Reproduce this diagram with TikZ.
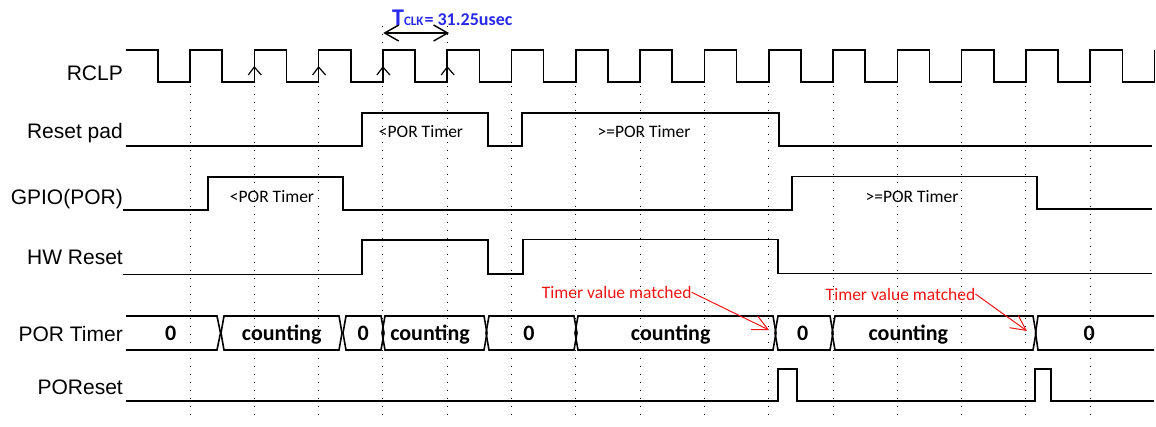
\documentclass[tikz,border=0pt]{standalone}
\usepackage{fontspec}
\setmainfont{Liberation Sans}
\newfontfamily\carfont{Carlito}
\usepackage{xcolor}
\usepackage{tikz}
\usetikzlibrary{arrows.meta, positioning}

\definecolor{tclkblue}{RGB}{40,40,235}
\definecolor{matchred}{RGB}{240,20,20}

\begin{document}
\begin{tikzpicture}[x=1pt, y=-1pt,
    sig/.style={line width=1.6pt},
    gridline/.style={line width=1pt, dash pattern=on 1pt off 7pt},
    rowlabel/.style={anchor=base east, inner sep=0pt, font=\fontsize{21}{21}\selectfont},
    note/.style={anchor=base, inner sep=0pt, font=\carfont\fontsize{17.5}{17.5}\selectfont},
    busval/.style={anchor=base, inner sep=0pt, font=\carfont\bfseries\fontsize{22}{22}\selectfont},
    matchnote/.style={note, text=matchred},
    matcharrow/.style={matchred, line width=1pt, -{Straight Barb[length=15pt,width=15pt]}}]
    \useasboundingbox (0,0) rectangle (1156,426);

    \foreach \k in {0,...,14}
        \draw[gridline] ({190+64.3*\k},86) -- ({190+64.3*\k},420);
    \foreach \k in {3,4}
        \draw[gridline] ({190+64.3*\k},26) -- ({190+64.3*\k},86);

    \node[rowlabel] (rclp) at (123,80) {RCLP};
    \node[rowlabel] (rstpad) at (123,138.5) {Reset pad};
    \node[rowlabel] (gpio) at (123,204) {GPIO(POR)};
    \node[rowlabel] (hwrst) at (123,264) {HW Reset};
    \node[rowlabel] (portmr) at (123,341.5) {POR Timer};
    \node[rowlabel] (poreset) at (123,394) {POReset};

    % RCLP
    \draw[sig] (126,50) \foreach \k in {0,...,15} {
        -- ({157.85+64.3*\k},50) -- ({157.85+64.3*\k},82) -- ({190+64.3*\k},82) -- ({190+64.3*\k},50) };
    \foreach \k in {1,...,4}
        \draw[line width=1.2pt] ({184+64.3*\k},75) -- ({190+64.3*\k},67) -- ({197+64.3*\k},75);

    \coordinate (tclkL) at (383.3,33);
    \coordinate (tclkR) at (449,33);
    \draw[line width=1.4pt, {Straight Barb[length=14pt,width=16pt]}-{Straight Barb[length=14pt,width=16pt]}] (tclkL) -- (tclkR);
    \node[anchor=base west, inner sep=0pt, text=tclkblue, font=\carfont\bfseries] (tclk) at (392,25)
        {\fontsize{24}{24}\selectfont T\fontsize{13}{13}\selectfont CLK\fontsize{18}{18}\selectfont\kern1pt= 31.25usec};

    % Reset pad / GPIO / HW Reset
    \draw[sig] (126,146) -- (362,146) -- (362,113) -- (488,113) -- (488,146) -- (522,146) -- (522,113)
        -- (779,113) -- (779,146) -- (1152,146);
    \node[note] (rstshort) at (421,137.5) {<POR Timer};
    \node[note] (rstlong) at (644,137.5) {>=POR Timer};

    \draw[sig] (123,210) -- (208,210) -- (208,177) -- (343,177) -- (343,210) -- (792,210) -- (792,176.5)
        -- (1037,176.5) -- (1037,209) -- (1152,209);
    \node[note] (gpioshort) at (272,202.5) {<POR Timer};
    \node[note] (gpiolong) at (912,202.5) {>=POR Timer};

    \draw[sig] (123,274.5) -- (362,274.5) -- (362,240) -- (488,240) -- (488,274) -- (523,274) -- (523,239.5)
        -- (778,239.5) -- (778,273.5) -- (1152,273.5);

    % POR Timer
    \draw[sig] (126,316) -- (217,316) -- (220.5,333) -- (217,350) -- (126,350);
    \foreach \s/\e in {224/339, 346/381, 385/484, 489/574, 578/773, 778/830, 835/1033}
        \draw[sig] ({\s-3},333) -- (\s,316) -- (\e,316) -- ({\e+3},333) -- (\e,350) -- (\s,350) -- cycle;
    \draw[sig] (1154,316) -- (1038,316) -- (1035.5,333) -- (1038,350) -- (1154,350);
    \foreach \x/\v [count=\i] in {170.7/0, 281.7/counting, 363.3/0, 430/counting, 529/0,
            670.7/counting, 802.7/0, 908.3/counting, 1089.3/0}
        \node[busval] (val\i) at (\x,340) {\v};

    \node[matchnote] (match1) at (616.7,298.3) {Timer value matched};
    \coordinate (hit1) at (769,330);
    \draw[matcharrow] (match1.east) -- (hit1);
    \node[matchnote] (match2) at (900.5,300) {Timer value matched};
    \coordinate (hit2) at (1027,331);
    \draw[matcharrow] (match2.east) -- (hit2);

    % POReset
    \draw[sig] (126,401) -- (778,401) -- (778,369) -- (797,369) -- (797,401) -- (1035,401) -- (1035,369)
        -- (1051,369) -- (1051,401) -- (1154,401);
\end{tikzpicture}
\end{document}
